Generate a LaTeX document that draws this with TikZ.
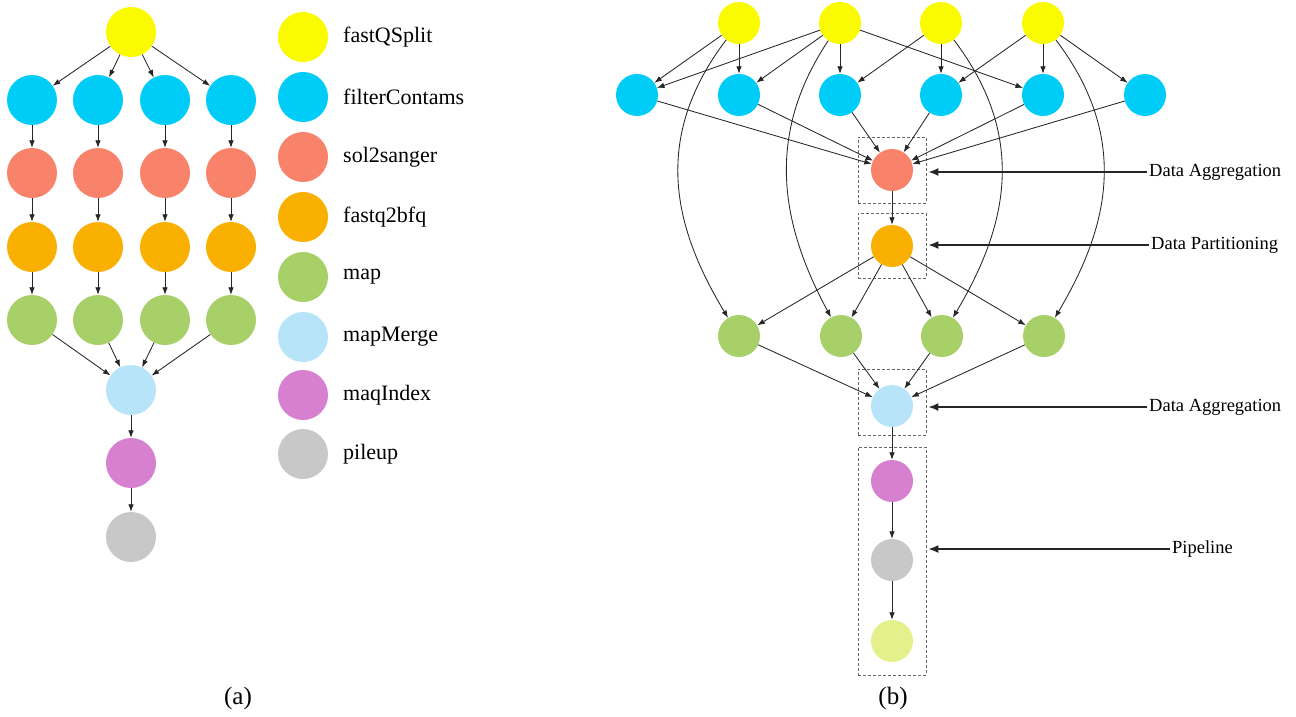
\documentclass[tikz,border=0pt]{standalone}
\usepackage{fontspec}
\setmainfont{Liberation Serif}
\usetikzlibrary{arrows.meta}
\definecolor{cYel}{HTML}{FAFA00}
\definecolor{cBlu}{HTML}{00CCF8}
\definecolor{cRed}{HTML}{F8826A}
\definecolor{cOra}{HTML}{FAB000}
\definecolor{cGre}{HTML}{A8D068}
\definecolor{cLbl}{HTML}{B8E4FA}
\definecolor{cMag}{HTML}{D880D0}
\definecolor{cGra}{HTML}{C8C8C8}
\definecolor{cLye}{HTML}{E4F08C}
\begin{document}
\begin{tikzpicture}[x=1pt,y=-1pt,
  ball/.style={circle,fill=#1,inner sep=0pt,minimum size=50pt},
  sball/.style={circle,fill=#1,inner sep=0pt,minimum size=42pt},
  edge/.style={draw=black!85,line width=0.85pt,-{Latex[length=7.5pt,width=5.5pt]}},
  dbox/.style={draw=black!60,dashed,dash pattern=on 3pt off 2pt,line width=0.9pt,inner sep=0pt},
  annot/.style={draw=black!85,line width=1.4pt,-{Latex[length=10pt,width=8pt]},shorten >=2pt},
  lgtext/.style={anchor=west,inner sep=0pt,font=\fontsize{22}{26}\selectfont},
  antext/.style={anchor=west,inner sep=2pt,font=\fontsize{18.5}{22}\selectfont},
  captext/.style={font=\fontsize{25}{30}\selectfont}
]
\useasboundingbox (0,0) rectangle (1296,716);

% ---------------- (a) ----------------
\node[ball=cYel] (a0) at (131,32) {};
\foreach \i/\x in {1/32,2/98,3/165,4/231}{
  \node[ball=cBlu] (ab\i) at (\x,100) {};
  \node[ball=cRed] (ar\i) at (\x,173) {};
  \node[ball=cOra] (ao\i) at (\x,247) {};
  \node[ball=cGre] (ag\i) at (\x,320) {};
}
\node[ball=cLbl] (alb) at (131,390) {};
\node[ball=cMag] (am) at (131,463) {};
\node[ball=cGra] (agr) at (131,537) {};
\foreach \i in {1,2,3,4}{
  \draw[edge] (a0) -- (ab\i);
  \draw[edge] (ab\i) -- (ar\i);
  \draw[edge] (ar\i) -- (ao\i);
  \draw[edge] (ao\i) -- (ag\i);
  \draw[edge] (ag\i) -- (alb);
}
\draw[edge] (alb) -- (am);
\draw[edge] (am) -- (agr);

% legend
\foreach \n/\c/\y/\t in {l1/cYel/37/fastQSplit,l2/cBlu/97/filterContams,l3/cRed/157/sol2sanger,l4/cOra/217/fastq2bfq,l5/cGre/277/map,l6/cLbl/337/mapMerge,l7/cMag/395/maqIndex,l8/cGra/454/pileup}{
  \node[ball=\c] (\n) at (303,\y) {};
  \node[lgtext] (\n t) at (343,\y) {\t};
}

\node[captext] (capa) at (238,698) {(a)};

% ---------------- (b) ----------------
\node[dbox,minimum width=68pt,minimum height=66pt] (bx1) at (892,170) {};
\node[dbox,minimum width=68pt,minimum height=65pt] (bx2) at (892,245.5) {};
\node[dbox,minimum width=68pt,minimum height=66pt] (bx3) at (892,402) {};
\node[dbox,minimum width=68pt,minimum height=228pt] (bx4) at (892,561) {};

\foreach \i/\x in {1/739,2/840,3/941,4/1043}{
  \node[sball=cYel] (y\i) at (\x,23) {};
}
\foreach \i/\x in {1/637,2/739,3/840,4/941,5/1043,6/1145}{
  \node[sball=cBlu] (b\i) at (\x,95) {};
}
\node[sball=cRed] (r) at (892,170) {};
\node[sball=cOra] (o) at (892,246) {};
\foreach \i/\x in {1/739,2/841,3/942,4/1044}{
  \node[sball=cGre] (g\i) at (\x,336) {};
}
\node[sball=cLbl] (lb) at (892,406) {};
\node[sball=cMag] (m) at (892,481) {};
\node[sball=cGra] (gr) at (892,560) {};
\node[sball=cLye] (ly) at (892,641) {};

% yellow -> blue
\draw[edge] (y1) -- (b1);
\draw[edge] (y1) -- (b2);
\draw[edge] (y2) -- (b1);
\draw[edge] (y2) -- (b2);
\draw[edge] (y2) -- (b3);
\draw[edge] (y2) -- (b5);
\draw[edge] (y3) -- (b3);
\draw[edge] (y3) -- (b4);
\draw[edge] (y4) -- (b4);
\draw[edge] (y4) -- (b5);
\draw[edge] (y4) -- (b6);
% yellow -> green (curved)
\draw[edge] (y1) .. controls (650,140) and (675,230) .. (g1);
\draw[edge] (y2) .. controls (762,140) and (784,230) .. (g2);
\draw[edge] (y3) .. controls (1030,140) and (1005,230) .. (g3);
\draw[edge] (y4) .. controls (1132,140) and (1107,230) .. (g4);
% blue -> red
\foreach \i in {1,...,6}{ \draw[edge] (b\i) -- (r); }
\draw[edge] (r) -- (o);
\foreach \i in {1,...,4}{
  \draw[edge] (o) -- (g\i);
  \draw[edge] (g\i) -- (lb);
}
\draw[edge] (lb) -- (m);
\draw[edge] (m) -- (gr);
\draw[edge] (gr) -- (ly);

% annotations
\node[antext] (t1) at (1147,172) {Data Aggregation};
\node[antext] (t2) at (1149,245) {Data Partitioning};
\node[antext] (t3) at (1147,407) {Data Aggregation};
\node[antext] (t4) at (1170,549) {Pipeline};
\draw[annot] (t1.west) -- (bx1.east |- t1.west);
\draw[annot] (t2.west) -- (bx2.east |- t2.west);
\draw[annot] (t3.west) -- (bx3.east |- t3.west);
\draw[annot] (t4.west) -- (bx4.east |- t4.west);

\node[captext] (capb) at (893,698) {(b)};
\end{tikzpicture}
\end{document}
